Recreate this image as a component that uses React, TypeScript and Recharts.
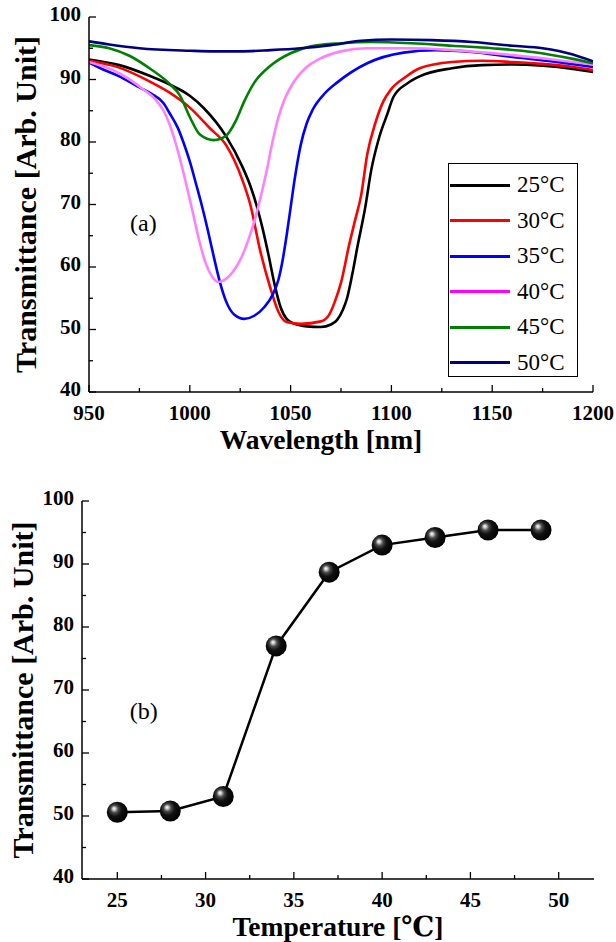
import React from "react";
import { LineChart, Line, XAxis, YAxis, Legend, ReferenceDot } from "recharts";

const SERIF = "Liberation Serif, DejaVu Serif, Times New Roman, serif";

// (a) spectra, wavelength [nm] / transmittance per temperature
const wl25 = [950, 965, 980, 990, 1000, 1007, 1018, 1026, 1030, 1033, 1036, 1039, 1042, 1045, 1048, 1052, 1058, 1065, 1070, 1073, 1076, 1078, 1081, 1083, 1087, 1090, 1094, 1098, 1101, 1108, 1114, 1130, 1145, 1160, 1175, 1190, 1200];
const tr25 = [93.2, 92.3, 90.6, 89.2, 87.4, 85.4, 80.9, 76.1, 73.0, 70.0, 66.3, 62.0, 57.3, 53.6, 51.7, 50.9, 50.5, 50.4, 50.8, 51.5, 53.2, 55.0, 59.5, 63.0, 69.5, 75.5, 80.8, 84.5, 87.2, 89.4, 90.5, 91.8, 92.3, 92.4, 92.2, 91.7, 91.2];

const wl30 = [950, 965, 980, 990, 1000, 1010, 1018, 1026, 1030, 1035, 1040, 1044, 1048, 1055, 1065, 1069, 1072, 1075, 1079, 1082, 1085, 1088, 1092, 1096, 1100, 1107, 1114, 1130, 1145, 1160, 1175, 1190, 1200];
const tr30 = [93.0, 91.9, 89.7, 87.9, 85.5, 82.2, 79.5, 74.0, 70.0, 62.5, 56.6, 52.8, 51.2, 50.9, 51.3, 52.3, 54.5, 57.5, 63.5, 67.5, 71.5, 78.0, 83.0, 86.5, 88.5, 90.4, 91.8, 92.8, 93.0, 92.8, 92.5, 92.0, 91.5];

const wl35 = [950, 957, 965, 974, 981, 987, 990, 994, 997, 1000, 1003, 1006, 1009, 1012, 1015, 1018, 1022, 1027, 1032, 1037, 1041, 1044, 1046, 1048, 1050, 1052, 1055, 1058, 1061, 1067, 1073, 1088, 1106, 1122, 1140, 1160, 1180, 1200];
const tr35 = [92.7, 91.6, 90.5, 88.9, 87.7, 86.2, 84.6, 82.3, 79.8, 76.9, 73.4, 69.8, 65.8, 61.5, 57.5, 54.5, 52.4, 51.7, 52.2, 53.6, 55.5, 58.0, 61.0, 65.0, 69.5, 74.0, 79.5, 83.0, 85.2, 87.8, 89.5, 92.6, 94.3, 94.7, 94.4, 93.6, 92.9, 92.0];

const wl40 = [950, 965, 977, 983, 987, 990, 993, 996, 999, 1002, 1005, 1008, 1011, 1014, 1017, 1020, 1023, 1026, 1029, 1032, 1035, 1038, 1041, 1044, 1047, 1051, 1058, 1065, 1075, 1088, 1110, 1130, 1160, 1180, 1200];
const tr40 = [92.8, 91.0, 88.4, 86.8, 85.0, 82.8, 79.8, 76.2, 72.2, 68.0, 63.8, 60.5, 58.5, 57.6, 57.9, 58.7, 60.0, 61.8, 64.3, 67.3, 71.0, 75.2, 80.0, 84.0, 86.8, 89.3, 92.0, 93.4, 94.5, 95.0, 95.0, 94.7, 93.9, 93.2, 92.4];

const wl45 = [950, 960, 970, 980, 990, 995, 1000, 1005, 1012, 1018, 1023, 1027, 1032, 1040, 1050, 1060, 1075, 1090, 1110, 1130, 1150, 1170, 1190, 1200];
const tr45 = [95.5, 95.0, 93.8, 91.8, 89.3, 87.5, 84.0, 81.2, 80.3, 81.0, 83.5, 86.5, 89.5, 92.2, 94.2, 95.3, 95.8, 96.0, 95.8, 95.4, 95.0, 94.4, 93.3, 92.6];

const wl50 = [950, 960, 975, 1000, 1012, 1025, 1040, 1055, 1070, 1085, 1100, 1120, 1140, 1160, 1175, 1190, 1200];
const tr50 = [96.1, 95.6, 95.0, 94.6, 94.5, 94.5, 94.7, 95.0, 95.5, 96.2, 96.4, 96.3, 96.0, 95.4, 95.0, 94.0, 92.9];

const seriesNames = ["25°C", "30°C", "35°C", "40°C", "45°C", "50°C"];
const lineColors = ["#000000", "#ff0000", "#0000ff", "#ff80ff", "#008000", "#000080"];
const legendColors = ["#000000", "#ff0000", "#0000ff", "#ff00ff", "#008000", "#000080"];

// (b) transmittance vs temperature
const temps = [25, 28, 31, 34, 37, 40, 43, 46, 49];
const trans = [50.6, 50.8, 53.1, 77.0, 88.7, 93.0, 94.2, 95.4, 95.4];

const wlTicks = [950, 975, 1000, 1025, 1050, 1075, 1100, 1125, 1150, 1175, 1200];
const wlMajor = [950, 1000, 1050, 1100, 1150, 1200];
const tTicks = [25, 27.5, 30, 32.5, 35, 37.5, 40, 42.5, 45, 47.5, 50];
const tMajor = [25, 30, 35, 40, 45, 50];
const yTicks = [40, 45, 50, 55, 60, 65, 70, 75, 80, 85, 90, 95, 100];
const yMajor = [40, 50, 60, 70, 80, 90, 100];

const zip = (xs: number[], ys: number[]) => xs.map((x, i) => ({ x, y: ys[i] }));
const spectra = [zip(wl25, tr25), zip(wl30, tr30), zip(wl35, tr35), zip(wl40, tr40), zip(wl45, tr45), zip(wl50, tr50)];
const tempData = zip(temps, trans);

type Side = "bottom" | "top" | "left" | "right";

const tickText = { fontFamily: SERIF, fontWeight: 700, fontSize: 21, fill: "#000" };

// ticks point into the plot, majors longer than minors
const makeTick = (side: Side, majors: number[], showLabel: boolean) => (props: any) => {
  const { x, y, payload } = props;
  const major = majors.includes(payload.value);
  const len = major ? 7 : 4;
  let x2 = x;
  let y2 = y;
  if (side === "bottom") y2 = y - len;
  if (side === "top") y2 = y + len;
  if (side === "left") x2 = x + len;
  if (side === "right") x2 = x - len;
  return (
    <g>
      <line x1={x} y1={y} x2={x2} y2={y2} stroke="#000" strokeWidth={1.3} />
      {showLabel && major && side === "bottom" && (
        <text x={x} y={y + 27.5} textAnchor="middle" style={tickText}>
          {payload.value}
        </text>
      )}
      {showLabel && major && side === "left" && (
        <text x={x - 8} y={y + 4} textAnchor="end" style={tickText}>
          {payload.value}
        </text>
      )}
    </g>
  );
};

const axisLine = { stroke: "#000", strokeWidth: 1.5 };
const xTitleText = { fontFamily: SERIF, fontWeight: 700, fontSize: 27.5, fill: "#000" };
const yTitleText = { fontFamily: SERIF, fontWeight: 700, fontSize: 30, fill: "#000" };

const xTitle = (text: string, dx: number, dy: number) => ({ viewBox }: any) => (
  <text x={viewBox.x + viewBox.width / 2 + dx} y={viewBox.y + dy} textAnchor="middle" style={xTitleText}>
    {text}
  </text>
);

const yTitle = (text: string, cx: number) => ({ viewBox }: any) => {
  const cy = viewBox.y + viewBox.height / 2;
  return (
    <text x={cx} y={cy} transform={`rotate(-90 ${cx} ${cy})`} textAnchor="middle" dominantBaseline="central" style={yTitleText}>
      {text}
    </text>
  );
};

const LegendBox = () => (
  <div style={{ position: "relative", width: 130, height: 214, border: "1px solid #000", boxSizing: "border-box", background: "#fff", fontFamily: SERIF }}>
    {seriesNames.map((name, i) => (
      <div key={name} style={{ position: "absolute", left: 1, top: 21 + i * 35.5 - 13, height: 26, display: "flex", alignItems: "center" }}>
        <div style={{ width: 60, height: 3, background: legendColors[i] }} />
        <span style={{ marginLeft: 7, fontSize: 23, color: "#000", lineHeight: "26px" }}>{name}</span>
      </div>
    ))}
  </div>
);

const panelLabel = { fontFamily: SERIF, fontSize: 24, fill: "#000" };

function SpectraChart() {
  return (
    <LineChart width={616} height={470} margin={{ top: 17, right: 23, bottom: 18, left: 29 }}>
      <XAxis xAxisId="top" orientation="top" type="number" domain={[950, 1200]} allowDataOverflow ticks={wlTicks} interval={0} height={0} tickSize={0} tickMargin={0} tickLine={false} axisLine={axisLine} tick={makeTick("top", wlMajor, false)} />
      <XAxis dataKey="x" type="number" domain={[950, 1200]} allowDataOverflow ticks={wlTicks} interval={0} height={60} tickSize={0} tickMargin={0} tickLine={false} axisLine={axisLine} tick={makeTick("bottom", wlMajor, true)} label={{ content: xTitle("Wavelength [nm]", -20, 56.5) }} />
      <YAxis type="number" domain={[40, 100]} allowDataOverflow ticks={yTicks} interval={0} width={60} tickSize={0} tickMargin={0} tickLine={false} axisLine={axisLine} tick={makeTick("left", yMajor, true)} label={{ content: yTitle("Transmittance [Arb. Unit]", 25) }} />
      <YAxis yAxisId="right" orientation="right" type="number" domain={[40, 100]} allowDataOverflow ticks={yTicks} interval={0} width={0} tickSize={0} tickMargin={0} tickLine={false} axisLine={axisLine} tick={makeTick("right", yMajor, false)} />
      {spectra.map((d, i) => (
        <Line key={seriesNames[i]} data={d} dataKey="y" name={seriesNames[i]} type="monotone" stroke={lineColors[i]} strokeWidth={2.6} dot={false} isAnimationActive={false} />
      ))}
      <ReferenceDot x={977} y={67.2} r={0} fill="none" stroke="none" label={{ value: "(a)", position: "center", style: panelLabel }} />
      <Legend layout="vertical" align="center" verticalAlign="middle" wrapperStyle={{ left: 448, top: 163, width: 130 }} content={() => <LegendBox />} />
    </LineChart>
  );
}

const Sphere = (props: any) => {
  const { cx, cy, index } = props;
  return <circle key={index} cx={cx} cy={cy} r={10.5} fill="url(#sphere)" />;
};

function TempChart() {
  return (
    <LineChart width={616} height={472} margin={{ top: 31, right: 22, bottom: 3, left: 22 }}>
      <defs>
        <radialGradient id="sphere" cx="0.42" cy="0.42" r="0.6" fx="0.34" fy="0.32">
          <stop offset="0" stopColor="#ffffff" />
          <stop offset="0.12" stopColor="#c8c8c8" />
          <stop offset="0.3" stopColor="#4a4a4a" />
          <stop offset="0.55" stopColor="#111" />
          <stop offset="1" stopColor="#000" />
        </radialGradient>
      </defs>
      <XAxis xAxisId="top" orientation="top" type="number" domain={[23, 52]} allowDataOverflow ticks={tTicks} interval={0} height={0} tickSize={0} tickMargin={0} tickLine={false} axisLine={axisLine} tick={makeTick("top", tMajor, false)} />
      <XAxis dataKey="x" type="number" domain={[23, 52]} allowDataOverflow ticks={tTicks} interval={0} height={60} tickSize={0} tickMargin={0} tickLine={false} axisLine={axisLine} tick={makeTick("bottom", tMajor, true)} label={{ content: xTitle("Temperature [℃]", 0, 56.5) }} />
      <YAxis type="number" domain={[40, 100]} allowDataOverflow ticks={yTicks} interval={0} width={60} tickSize={0} tickMargin={0} tickLine={false} axisLine={axisLine} tick={makeTick("left", yMajor, true)} label={{ content: yTitle("Transmittance [Arb. Unit]", 22) }} />
      <YAxis yAxisId="right" orientation="right" type="number" domain={[40, 100]} allowDataOverflow ticks={yTicks} interval={0} width={0} tickSize={0} tickMargin={0} tickLine={false} axisLine={axisLine} tick={makeTick("right", yMajor, false)} />
      <Line data={tempData} dataKey="y" type="linear" stroke="#000" strokeWidth={2.5} dot={Sphere} isAnimationActive={false} />
      <ReferenceDot x={26.5} y={66.8} r={0} fill="none" stroke="none" label={{ value: "(b)", position: "center", style: panelLabel }} />
    </LineChart>
  );
}

export default function App() {
  return (
    <div style={{ position: "absolute", left: 0, top: 0, width: 616, height: 942, background: "#fff" }}>
      <div style={{ position: "absolute", left: 0, top: 0 }}>
        <SpectraChart />
      </div>
      <div style={{ position: "absolute", left: 0, top: 470 }}>
        <TempChart />
      </div>
    </div>
  );
}
